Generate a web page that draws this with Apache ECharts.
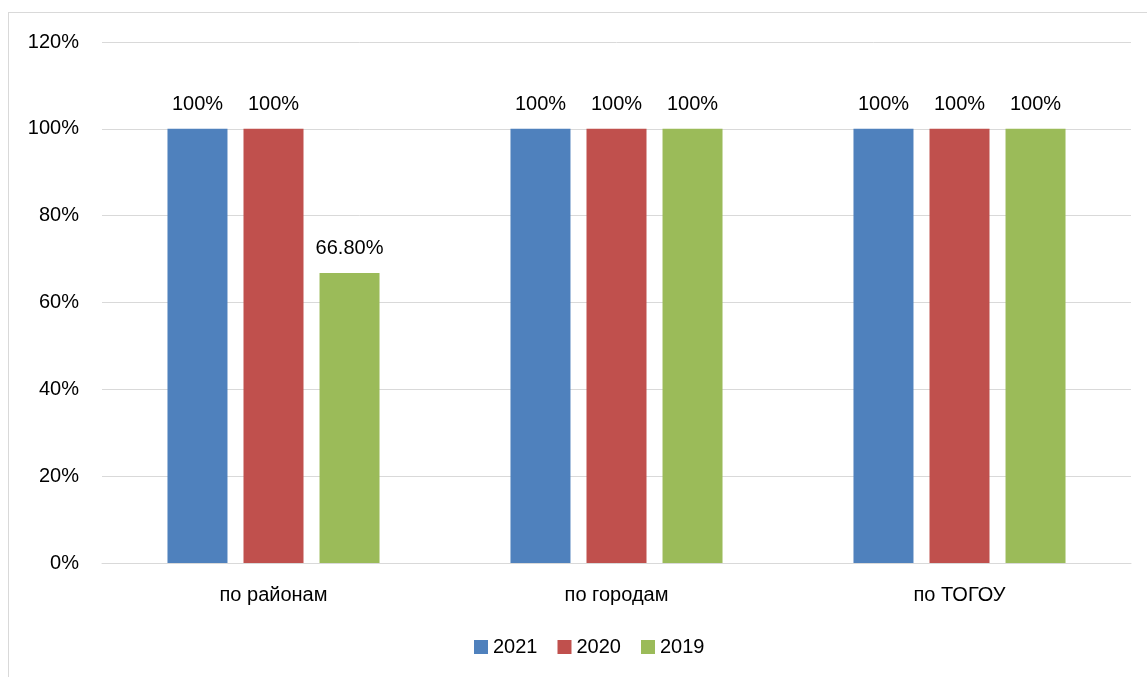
<!DOCTYPE html>
<html><head><meta charset="utf-8">
<script src="https://cdn.jsdelivr.net/npm/echarts@6/dist/echarts.min.js"></script>
<style>html,body{margin:0;padding:0;background:#fff}#c{width:1147px;height:677px}
#frame{position:absolute;left:8px;top:12px;width:1160px;height:700px;border:1px solid #d9d9d9;box-sizing:border-box;pointer-events:none}</style>
</head><body><div id="c"></div><div id="frame"></div>
<script>
const categories = ["по районам", "по городам", "по ТОГОУ"];
const seriesNames = ["2021", "2020", "2019"];
const values2021 = [100, 100, 100];
const values2020 = [100, 100, 100];
const values2019 = [66.8, 100, 100];
const labels2021 = ["100%", "100%", "100%"];
const labels2020 = ["100%", "100%", "100%"];
const labels2019 = ["66.80%", "100%", "100%"];
const yTicks = [0, 20, 40, 60, 80, 100, 120];
const colors = ["#4F81BD", "#C0504D", "#9BBB59"];

const font = "Liberation Sans";
const fs = 20;
const allVals = [values2021, values2020, values2019];
const allLabels = [labels2021, labels2020, labels2019];
const chart = echarts.init(document.getElementById('c'));
chart.setOption({
  animation: false,
  textStyle: {fontFamily: font},
  grid: {left: 102, right: 16, top: 42, bottom: 114},
  legend: {
    data: seriesNames, bottom: 15, left: 469, itemWidth: 14, itemHeight: 14, itemGap: 20,
    icon: 'rect', textStyle: {fontSize: fs, color: '#000', fontFamily: font}
  },
  xAxis: {
    type: 'category', data: categories,
    axisLine: {show: true, lineStyle: {color: '#d9d9d9', width: 1}},
    axisTick: {show: false},
    axisLabel: {fontSize: fs, color: '#000', margin: 22, fontFamily: font}
  },
  yAxis: {
    type: 'value', min: yTicks[0], max: yTicks[yTicks.length - 1], interval: 20,
    axisLine: {show: false}, axisTick: {show: false},
    splitLine: {lineStyle: {color: '#d9d9d9', width: 1}},
    axisLabel: {fontSize: fs, color: '#000', margin: 23, formatter: v => v + '%', fontFamily: font}
  },
  series: seriesNames.map((n, i) => ({
    name: n, type: 'bar', barWidth: 60, barGap: '26.7%',
    itemStyle: {color: colors[i]},
    data: allVals[i],
    label: {
      show: true, position: 'top', distance: 14, fontSize: fs, color: '#000', fontFamily: font,
      formatter: p => allLabels[i][p.dataIndex]
    }
  }))
});
</script></body></html>
